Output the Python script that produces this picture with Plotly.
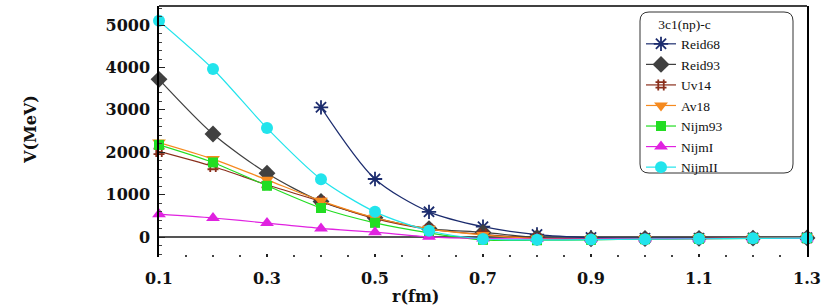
import plotly.graph_objects as go

r_full = [0.1, 0.2, 0.3, 0.4, 0.5, 0.6, 0.7, 0.8, 0.9, 1.0, 1.1, 1.2, 1.3]
r_reid68 = [0.4, 0.5, 0.6, 0.7, 0.8, 0.9, 1.0, 1.1, 1.2, 1.3]

reid68 = [3060, 1370, 595, 245, 60, -10, -25, -25, -20, -15]
reid93 = [3720, 2430, 1505, 840, 455, 200, 110, -10, -40, -35, -30, -25, -20]
uv14 = [2020, 1665, 1235, 840, 435, 185, 65, -25, -50, -40, -30, -25, -20]
av18 = [2230, 1840, 1350, 855, 455, 195, 50, -35, -55, -45, -35, -25, -20]
nijm93 = [2175, 1760, 1210, 685, 335, 100, -65, -75, -65, -50, -40, -30, -25]
nijmI = [540, 450, 330, 205, 115, 5, -35, -45, -45, -40, -35, -30, -25]
nijmII = [5100, 3965, 2570, 1365, 595, 150, -45, -65, -60, -50, -40, -30, -25]

series = [
    ("Reid68", r_reid68, reid68, "#1c2c6e", "asterisk-open", 12),
    ("Reid93", r_full, reid93, "#404040", "diamond", 13),
    ("Uv14", r_full, uv14, "#8a2f1c", "hash-open", 11),
    ("Av18", r_full, av18, "#f58a1f", "triangle-down", 12),
    ("Nijm93", r_full, nijm93, "#22dd22", "square", 10),
    ("NijmI", r_full, nijmI, "#e022e0", "triangle-up", 12),
    ("NijmII", r_full, nijmII, "#22e4ec", "circle", 12),
]

fig = go.Figure()
for name, xs, ys, col, sym, sz in series:
    line_sym = sym.endswith("open")
    fig.add_trace(go.Scatter(
        x=xs, y=ys, name=name, mode="lines+markers",
        line=dict(color=col, width=1.2, shape="spline", smoothing=0.8),
        marker=dict(symbol=sym, size=sz, color=col,
                    line=dict(color=col, width=1.8 if line_sym else 0)),
        cliponaxis=False,
    ))

W, H = 830, 306
L, R, T, B = 159, 23, 6, 49
pw, ph = W - L - R, H - T - B

def px(x):
    return (x - L) / pw

def py(y):
    return (H - B - y) / ph

# rounded legend frame
x0, x1, y0, y1 = px(640), px(793), py(173), py(12)
rx, ry = 9 / pw, 9 / ph
path = (f"M {x0+rx},{y1} L {x1-rx},{y1} Q {x1},{y1} {x1},{y1-ry} "
        f"L {x1},{y0+ry} Q {x1},{y0} {x1-rx},{y0} L {x0+rx},{y0} "
        f"Q {x0},{y0} {x0},{y0+ry} L {x0},{y1-ry} Q {x0},{y1} {x0+rx},{y1} Z")

tickfont = dict(family="DejaVu Serif", size=16, color="#111111", weight="bold")
legfont = dict(family="Liberation Serif, Times New Roman, serif", size=13.5, color="#111111")

fig.update_layout(
    width=W, height=H,
    margin=dict(l=L, r=R, t=T, b=B),
    paper_bgcolor="white", plot_bgcolor="white",
    showlegend=True,
    legend=dict(
        x=px(641), y=py(11), xanchor="left", yanchor="top",
        bgcolor="rgba(0,0,0,0)", borderwidth=0,
        font=legfont,
        title=dict(text="3c1(np)-c", side="top center", font=legfont),
        tracegroupgap=0, itemwidth=30,
    ),
    xaxis=dict(
        range=[0.1, 1.3], tick0=0.1, dtick=0.2, tickformat=".1f",
        showline=False, showgrid=False, zeroline=False,
        ticks="inside", ticklen=3, tickcolor="#222", tickwidth=1.5,
        minor=dict(dtick=0.05, ticks="inside", ticklen=2, tickcolor="#444"),
        tickfont=tickfont, ticklabelstandoff=10,
    ),
    yaxis=dict(
        range=[-470, 5450], tick0=0, dtick=1000,
        showline=True, linecolor="black", linewidth=1.5, mirror=True,
        showgrid=False,
        zeroline=True, zerolinecolor="#555555", zerolinewidth=1.5,
        ticks="inside", ticklen=6, tickcolor="#222", tickwidth=1,
        minor=dict(dtick=200, ticks="inside", ticklen=3, tickcolor="#444"),
        tickfont=tickfont, ticklabelstandoff=4,
    ),
    shapes=[
        dict(type="line", xref="paper", yref="paper", x0=0, x1=1, y0=1, y1=1,
             line=dict(color="black", width=1.5)),
        dict(type="path", xref="paper", yref="paper", path=path,
             line=dict(color="#333333", width=1)),
    ],
    annotations=[
        dict(text="r(fm)", xref="paper", yref="paper", x=px(415), y=py(296),
             showarrow=False, xanchor="center", yanchor="middle",
             font=dict(family="DejaVu Serif", size=16, color="#111111", weight="bold")),
        dict(text="V(MeV)", xref="paper", yref="paper", x=px(30), y=py(130),
             showarrow=False, xanchor="center", yanchor="middle", textangle=-90,
             font=dict(family="DejaVu Serif", size=16, color="#111111", weight="bold")),
    ],
)

fig.write_html("out.html", config={"displayModeBar": False},
               post_script="document.body.style.margin='0px';")
